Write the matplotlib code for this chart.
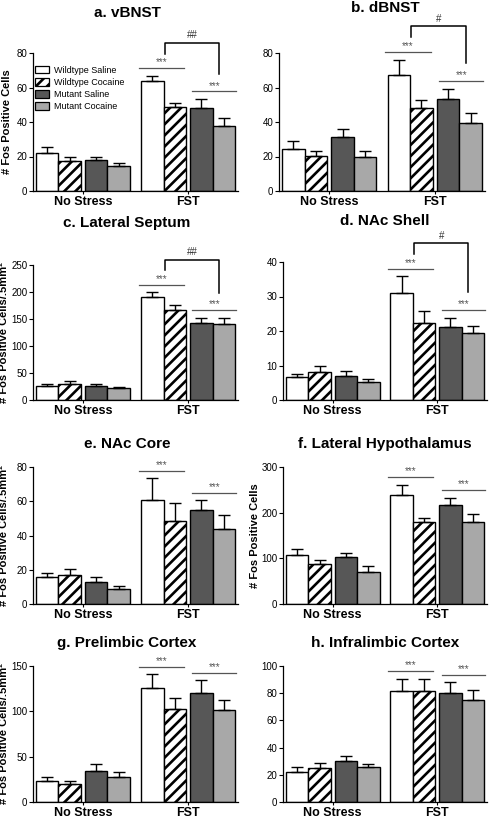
import numpy as np
import matplotlib.pyplot as plt
from matplotlib.patches import Patch

plt.rcParams['font.family'] = ['Liberation Sans', 'DejaVu Sans']
plt.rcParams['hatch.linewidth'] = 1.9

# groups and series
groups = ["No Stress", "FST"]
series = ["Wildtype Saline", "Wildtype Cocaine", "Mutant Saline", "Mutant Cocaine"]

titles = ["a. vBNST", "b. dBNST", "c. Lateral Septum", "d. NAc Shell",
          "e. NAc Core", "f. Lateral Hypothalamus", "g. Prelimbic Cortex",
          "h. Infralimbic Cortex"]
ylabels = ["# Fos Positive Cells", "", "# Fos Positive Cells/.5mm²", "",
           "# Fos Positive Cells/.5mm²", "# Fos Positive Cells",
           "# Fos Positive Cells/.5mm²", ""]
ymax = [80, 80, 250, 40, 80, 300, 150, 100]
ystep = [20, 20, 50, 10, 20, 100, 50, 20]

# means / sem, order: NS (WS, WC, MS, MC), FST (WS, WC, MS, MC)
vbnst_mean = [22.2, 17.3, 18.1, 14.5, 63.8, 48.5, 48.3, 37.7]
vbnst_sem = [3.4, 2.4, 1.9, 1.5, 3.0, 2.7, 5.0, 4.4]
dbnst_mean = [24.2, 20.3, 31.2, 20.0, 67.0, 48.4, 53.5, 39.7]
dbnst_sem = [5.0, 3.1, 4.7, 3.4, 9.2, 4.1, 5.8, 5.5]
ls_mean = [25.9, 29.6, 26.5, 22.8, 190.0, 166.0, 143.0, 141.0]
ls_sem = [3.7, 5.6, 3.0, 2.0, 10.0, 10.5, 9.5, 11.7]
shell_mean = [6.6, 8.2, 7.1, 5.1, 31.0, 22.3, 21.2, 19.3]
shell_sem = [0.9, 1.8, 1.4, 0.9, 4.8, 3.4, 2.7, 2.2]
core_mean = [15.6, 16.7, 12.6, 8.8, 60.9, 48.4, 54.7, 43.8]
core_sem = [2.5, 3.7, 3.2, 1.5, 12.6, 10.5, 5.8, 8.0]
lh_mean = [107.0, 86.7, 103.4, 69.2, 239.7, 179.8, 216.3, 178.5]
lh_sem = [12.4, 10.2, 7.3, 13.8, 21.8, 9.6, 16.8, 18.8]
pl_mean = [23.4, 20.1, 33.7, 27.1, 125.9, 102.1, 120.4, 101.4]
pl_sem = [4.0, 3.3, 8.0, 5.5, 15.0, 12.8, 13.9, 10.9]
il_mean = [22.1, 24.8, 30.3, 25.5, 81.3, 81.3, 80.1, 74.8]
il_sem = [3.9, 4.1, 3.7, 2.7, 9.5, 9.0, 7.8, 7.2]

means = [vbnst_mean, dbnst_mean, ls_mean, shell_mean, core_mean, lh_mean, pl_mean, il_mean]
sems = [vbnst_sem, dbnst_sem, ls_sem, shell_sem, core_sem, lh_sem, pl_sem, il_sem]
# FST comparisons: "***" for both pairs, bracket label between genotypes
bracket_marks = ["##", "#", "##", "#", None, None, None, None]

colors = ["white", "white", "#575757", "#a8a8a8"]
hatches = ["", "///", "", ""]

# axes boxes in pixels: left, right, top, bottom
boxes = [(33, 238, 53, 191), (279, 485, 53, 191),
         (33, 238, 265, 400), (283, 487, 262, 400),
         (33, 238, 467, 604), (283, 487, 467, 604),
         (33, 238, 666, 802), (283, 487, 666, 802)]
title_y = [13, 8, 223, 221, 444, 444, 643, 643]
label_x = [-0.10, 0, -0.115, 0, -0.115, -0.115, -0.115, 0]
W, H = 490, 819

fig = plt.figure(figsize=(W / 100, H / 100), dpi=100)

offsets = np.array([0, 1, 2.18, 3.18])
starts = np.array([0.63, 5.3])
xpos = np.concatenate([s + offsets for s in starts])
centers = starts + offsets[-1] / 2

for i in range(8):
    l, r, t, b = boxes[i]
    ax = fig.add_axes([l / W, 1 - b / H, (r - l) / W, (b - t) / H])
    m = np.array(means[i])
    e = np.array(sems[i])
    for k in range(8):
        s = k % 4
        ax.bar(xpos[k], m[k], width=1.0, color=colors[s], hatch=hatches[s],
               edgecolor="black", linewidth=1.0, zorder=2)
    ax.errorbar(xpos, m, yerr=[np.zeros(8), e], fmt="none", ecolor="black",
                elinewidth=1.0, capsize=4.5, capthick=1.0, zorder=3)

    ym = ymax[i]
    ax.set_xlim(0, 9.11)
    ax.set_ylim(0, ym)
    ax.set_yticks(np.arange(0, ym + 1, ystep[i]))
    ax.set_xticks(centers)
    ax.set_xticklabels(groups, fontsize=9, fontweight="bold")
    ax.tick_params(axis="x", length=2.5, width=0.8, pad=1)
    ax.tick_params(axis="y", length=3, width=0.8, labelsize=7, pad=1)
    for sp in ["top", "right"]:
        ax.spines[sp].set_visible(False)
    for sp in ["left", "bottom"]:
        ax.spines[sp].set_linewidth(0.9)

    if ylabels[i]:
        ax.set_ylabel(ylabels[i], fontsize=8, fontweight="bold")
        ax.yaxis.set_label_coords(label_x[i], 0.5)

    tx = 127 if i % 2 == 0 else 385
    fig.text(tx / W, 1 - title_y[i] / H, titles[i], ha="center", va="center",
             fontsize=11, fontweight="bold")

    # significance lines
    top1 = max(m[4] + e[4], m[5] + e[5]) + 0.055 * ym
    top2 = max(m[6] + e[6], m[7] + e[7]) + 0.055 * ym
    for (x0, x1, yy) in [(xpos[4] - 0.6, xpos[5] + 0.4, top1),
                         (xpos[6] - 0.4, xpos[7] + 0.55, top2)]:
        ax.plot([x0, x1], [yy, yy], color="#555555", lw=0.9, clip_on=False, zorder=4)
        ax.annotate("***", ((x0 + x1) / 2, yy), xytext=(0, 0.5),
                    textcoords="offset points", ha="center", va="bottom",
                    fontsize=7, color="#555555", annotation_clip=False)

    if bracket_marks[i]:
        bl = xpos[5] - 0.45
        br = xpos[7] - 0.2
        btop = top1 + 0.185 * ym
        ax.plot([bl, bl, br, br], [top1 + 0.105 * ym, btop, btop, top2 + 0.13 * ym],
                color="black", lw=1.1, clip_on=False, zorder=4)
        ax.annotate(bracket_marks[i], ((bl + br) / 2, btop), xytext=(0, 2),
                    textcoords="offset points", ha="center", va="bottom",
                    fontsize=7, color="#333333", annotation_clip=False)

    if i == 0:
        handles = [Patch(facecolor=colors[s], hatch=hatches[s], edgecolor="black",
                         linewidth=0.9) for s in range(4)]
        ax.legend(handles, series, loc="upper left", bbox_to_anchor=(0.0, 0.92),
                  frameon=False, fontsize=6.5, handlelength=1.6, handleheight=0.9,
                  handletextpad=0.5, labelspacing=0.35, borderpad=0.2,
                  borderaxespad=0)

fig.savefig("out.png", dpi=100)
